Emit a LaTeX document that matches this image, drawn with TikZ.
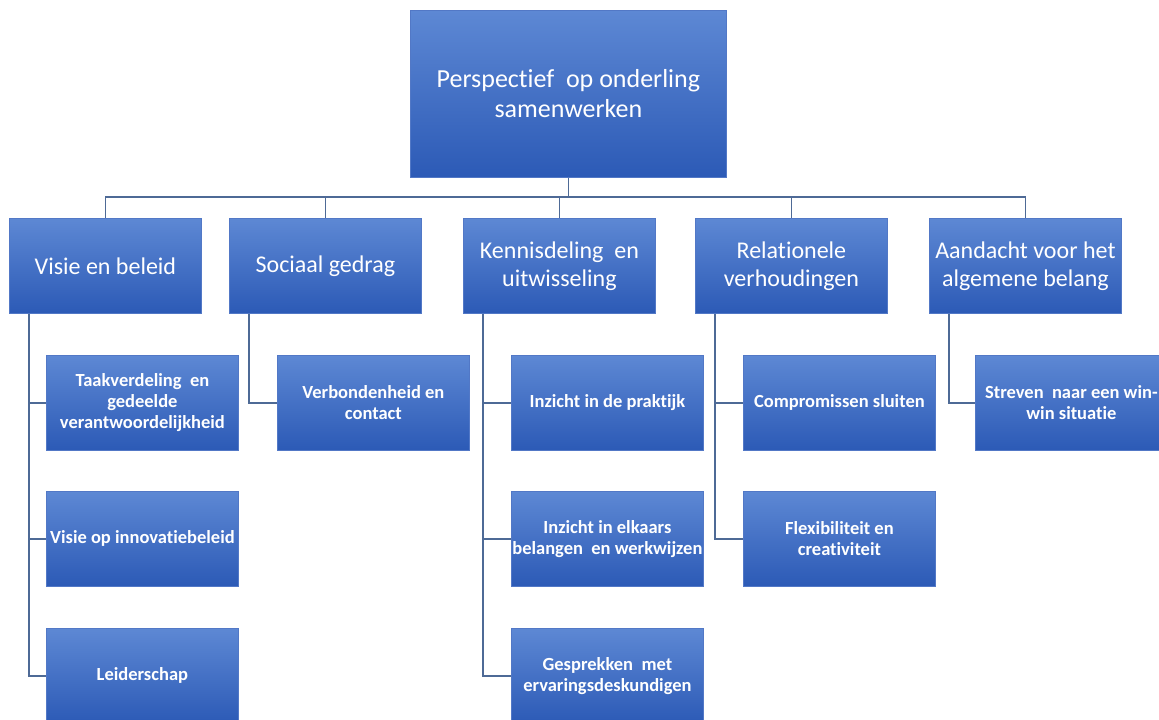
\documentclass[tikz,border=0pt]{standalone}
\usepackage{fontspec}
\setmainfont{Carlito}[Ligatures=NoCommon]
\definecolor{boxtop}{RGB}{93,136,212}
\definecolor{boxbot}{RGB}{44,90,182}
\definecolor{boxedge}{RGB}{82,120,198}
\definecolor{linkc}{RGB}{78,106,150}
\tikzset{
  box/.style={draw=boxedge, line width=0.8pt, top color=boxtop, bottom color=boxbot,
    text=white, align=center, inner sep=0pt, anchor=north west,
    minimum width=192pt, minimum height=95pt},
  rootbox/.style={box, minimum width=316pt, minimum height=167pt,
    font=\fontsize{26}{30}\selectfont},
  headbox/.style={box, font=\fontsize{24}{28}\selectfont},
  leafbox/.style={box, font=\bfseries\fontsize{18.5}{21}\selectfont},
  link/.style={draw=linkc, line width=1.6pt},
}
\begin{document}
\begin{tikzpicture}[x=1pt,y=-1pt]
  \useasboundingbox (0,0) rectangle (1159,720);
  \clip (0,0) rectangle (1159,720);
  \fill[white] (0,0) rectangle (1159,720);

  % root
  \node[rootbox] (root) at (410,10) {Perspectief\ \ op onderling\\samenwerken};

  % first level
  \node[headbox] (visie) at (9,218)   {Visie en beleid};
  \node[headbox] (soc)   at (229,218) {Sociaal gedrag};
  \node[headbox] (kenn)  at (463,218) {Kennisdeling\ \ en\\uitwisseling};
  \node[headbox] (rel)   at (695,218) {Relationele\\verhoudingen};
  \node[headbox] (aand)  at (929,218) {Aandacht voor het\\algemene belang};

  % second level
  \node[leafbox] (taak)  at (46,355)  {Taakverdeling\ \ en\\gedeelde\\verantwoordelijkheid};
  \node[leafbox] (innov) at (46,491)  {Visie op innovatiebeleid};
  \node[leafbox] (leid)  at (46,628)  {Leiderschap};

  \node[leafbox] (verb)  at (277,355) {Verbondenheid en\\contact};

  \node[leafbox] (prak)  at (511,355) {Inzicht in de praktijk};
  \node[leafbox] (elk)   at (511,491) {Inzicht in elkaars\\belangen\ \ en werkwijzen};
  \node[leafbox] (gespr) at (511,628) {Gesprekken\ \ met\\ervaringsdeskundigen};

  \node[leafbox] (comp)  at (743,355) {Compromissen sluiten};
  \node[leafbox] (flex)  at (743,491) {Flexibiliteit en\\creativiteit};

  \node[leafbox] (strev) at (975,355) {Streven\ \ naar een win-\\win situatie};

  % trunk and bus
  \coordinate (bus) at (0,197);
  \draw[link] (root.south) -- (root.south |- bus);
  \foreach \h in {visie,soc,kenn,rel,aand}
    \draw[link] (root.south |- bus) -| (\h.north);

  % spines to the second level
  \foreach \p/\c in {visie/taak,visie/innov,visie/leid,soc/verb,
                     kenn/prak,kenn/elk,kenn/gespr,rel/comp,rel/flex,aand/strev}
    \draw[link] ([xshift=20pt]\p.south west) |- (\c.west);
\end{tikzpicture}
\end{document}
